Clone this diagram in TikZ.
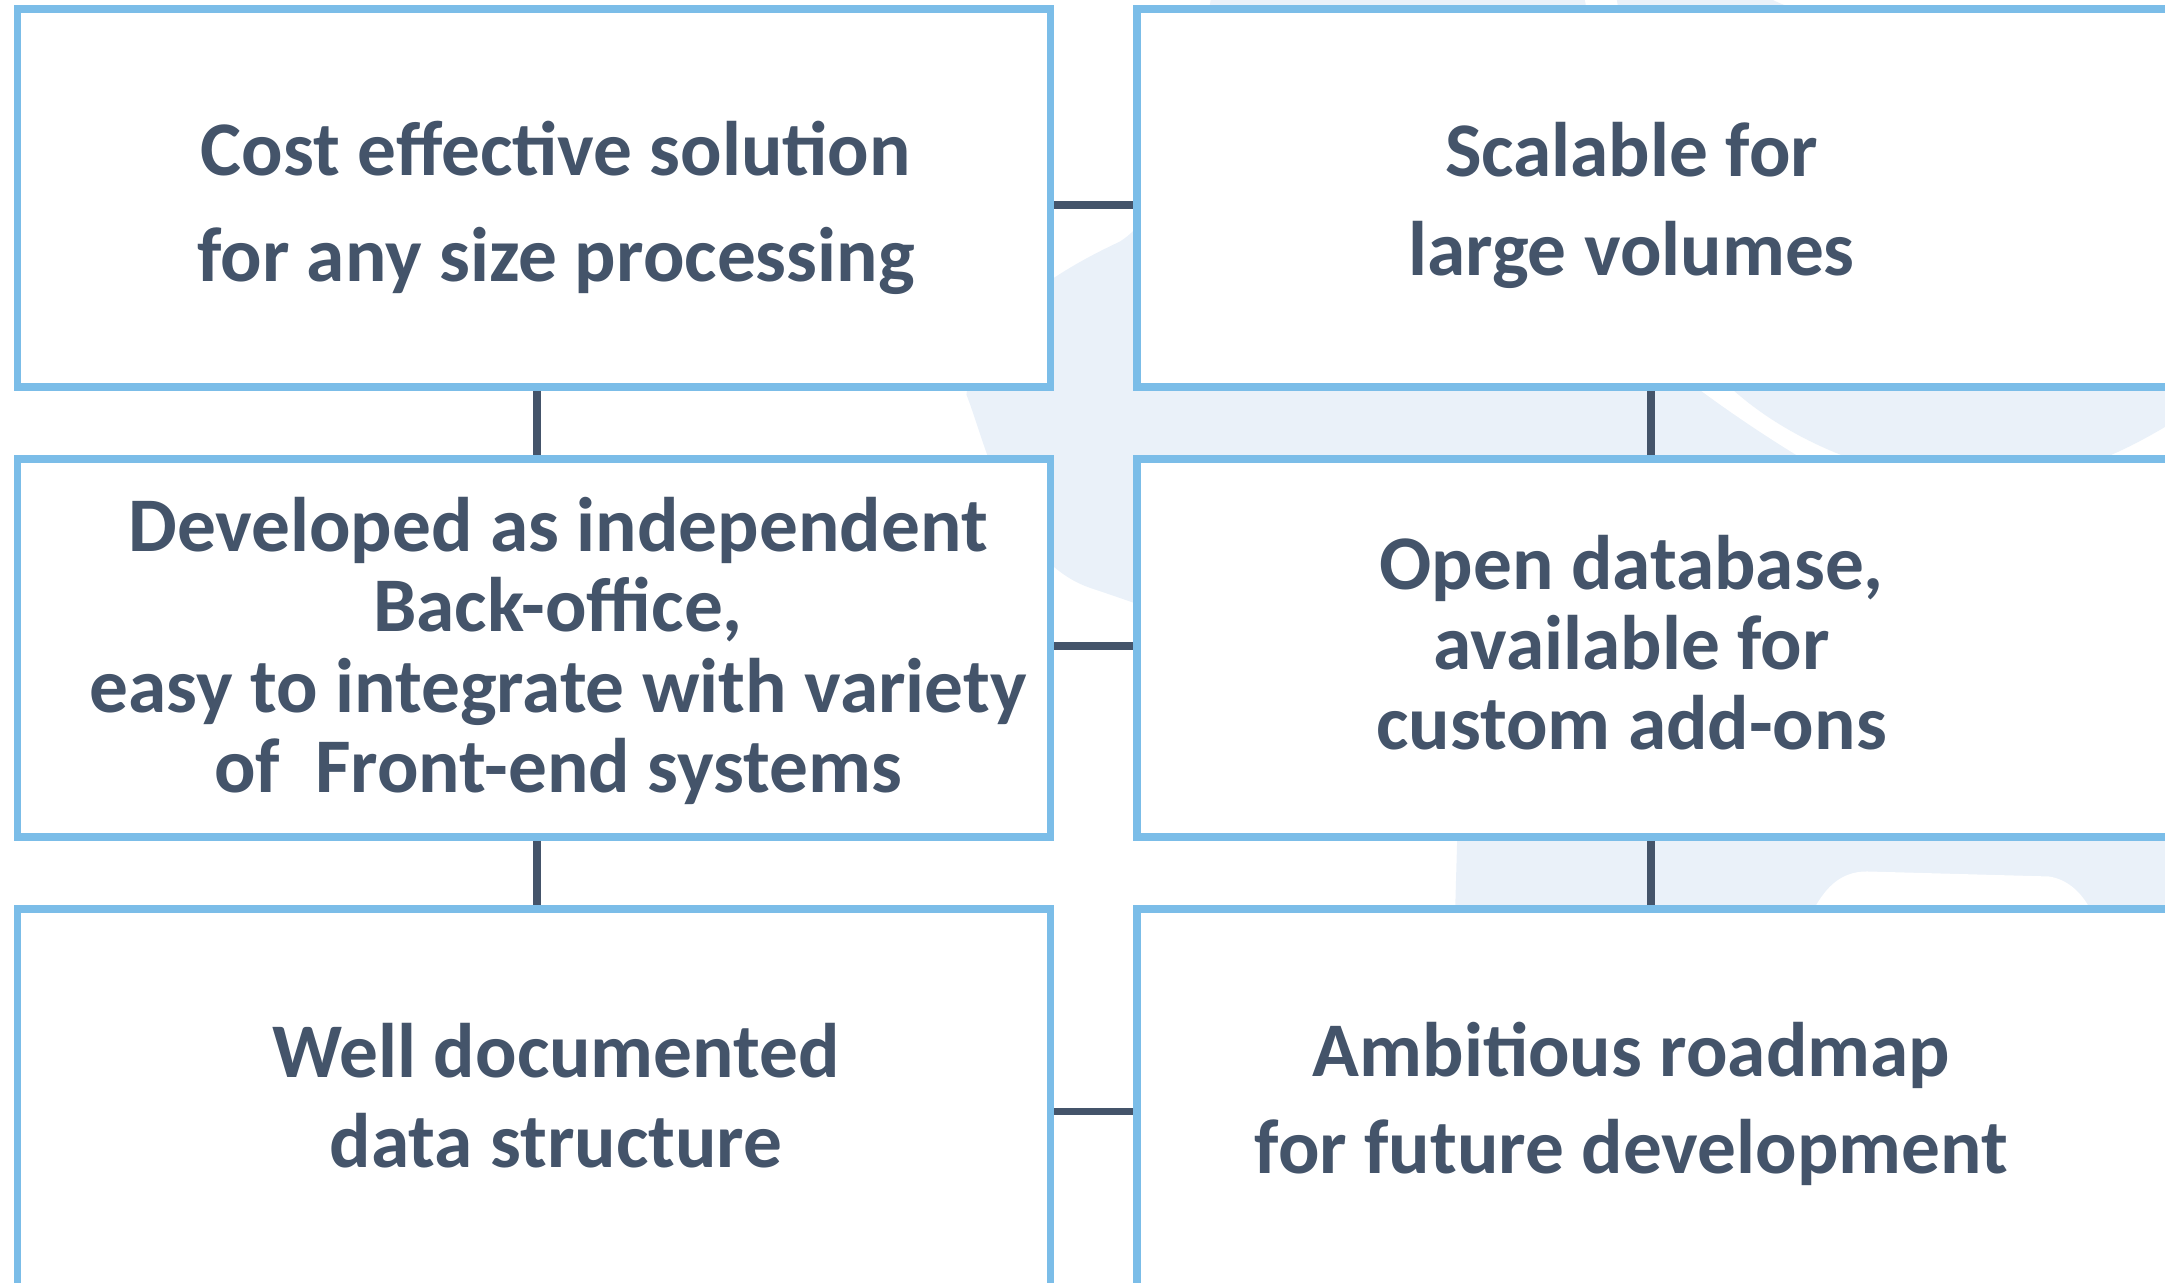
\documentclass[tikz,border=0pt]{standalone}
\usepackage{fontspec}
\setmainfont{Carlito}
\usetikzlibrary{positioning}

\definecolor{tileblue}{RGB}{123,189,232}
\definecolor{slate}{RGB}{68,84,106}
\definecolor{haze}{RGB}{234,241,249}

\tikzset{
  tile/.style  = {draw = tileblue, fill = white, line width = 2.2pt,
                  minimum width = 10.33cm, minimum height = 3.78cm,
                  inner sep = 0pt, outer sep = 0pt},
  blurb/.style = {text = slate, align = center, inner sep = 0pt,
                  font = \bfseries\fontsize{22}{#1}\selectfont},
  link/.style  = {draw = slate, line width = 2.1pt,
                  shorten <=1.1pt, shorten >=1.1pt}
}

\begin{document}
\begin{tikzpicture}
  \path[use as bounding box] (0,0) rectangle (21.65,12.83);
  \clip (0,0) rectangle (21.65,12.83);

  \begin{scope}[x=0.01cm, y=-0.01cm, yshift=12.83cm]
    \fill[haze] (1212,-5) .. controls (1195,120) and (1165,215) .. (1120,242)
                .. controls (1060,270) and (975,320) .. (967,395)
                .. controls (985,440) and (1010,560) .. (1090,588)
                .. controls (1200,625) and (1420,700) .. (1458,840)
                -- (1445,1300) -- (2200,1300) -- (2200,-5) -- cycle;
    \fill[white] (1585,-5) .. controls (1620,200) and (1660,330) .. (1702,391)
                 .. controls (1745,423) and (1830,480) .. (1900,510)
                 .. controls (2000,540) and (2150,530) .. (2200,500)
                 -- (2200,-5) -- cycle;
    \fill[haze] (1617,-5) .. controls (1650,200) and (1690,340) .. (1735,391)
                .. controls (1790,440) and (1880,480) .. (1970,482)
                .. controls (2060,482) and (2110,460) .. (2165,428)
                .. controls (2230,380) and (2250,250) .. (2150,150)
                .. controls (2000,60) and (1800,20) .. (1765,-5) -- cycle;
    \fill[white] (1812,915) .. controls (1825,890) and (1840,872) .. (1868,872)
                 -- (2050,877) .. controls (2070,880) and (2085,895) .. (2094,915)
                 -- cycle;
  \end{scope}

  \node[tile] (cost) at (5.34,10.85) {};
  \node[tile, right=0.865cm of cost] (scale) {};
  \node[tile, below=0.72cm of cost] (devel) {};
  \node[tile, below=0.72cm of scale] (open) {};
  \node[tile, below=0.72cm of devel] (docs) {};
  \node[tile, below=0.72cm of open] (road) {};

  \node[blurb=30pt] (costtxt) at ([xshift=0.22cm, yshift=-0.1cm]cost.center)
    {Cost effective solution\\for any size processing};
  \node[blurb=28pt] (scaletxt) at ([xshift=-0.22cm, yshift=-0.075cm]scale.center)
    {Scalable for\\large volumes};
  \node[blurb=22.8pt] (develtxt) at ([xshift=0.24cm, yshift=-0.03cm]devel.center)
    {Developed as independent\\Back-office,\\easy to integrate with variety\\of~ Front-end systems};
  \node[blurb=22.8pt] (opentxt) at ([xshift=-0.22cm, yshift=0.055cm]open.center)
    {Open database,\\available for\\custom add-ons};
  \node[blurb=25.6pt] (docstxt) at ([xshift=0.22cm, yshift=0.02cm]docs.center)
    {Well documented\\data structure};
  \node[blurb=27.6pt] (roadtxt) at ([xshift=-0.22cm, yshift=-0.06cm]road.center)
    {Ambitious roadmap\\for future development};

  \draw[link] ([xshift=0.03cm]cost.south) -- ([xshift=0.03cm]devel.north);
  \draw[link] ([xshift=0.03cm]devel.south) -- ([xshift=0.03cm]docs.north);
  \draw[link] ([xshift=-0.025cm]scale.south) -- ([xshift=-0.025cm]open.north);
  \draw[link] ([xshift=-0.025cm]open.south) -- ([xshift=-0.025cm]road.north);
  \draw[link] ([yshift=-0.07cm]cost.east) -- ([yshift=-0.07cm]scale.west);
  \draw[link] ([yshift=0.02cm]devel.east) -- ([yshift=0.02cm]open.west);
  \draw[link] ([yshift=-0.135cm]docs.east) -- ([yshift=-0.135cm]road.west);
\end{tikzpicture}
\end{document}
